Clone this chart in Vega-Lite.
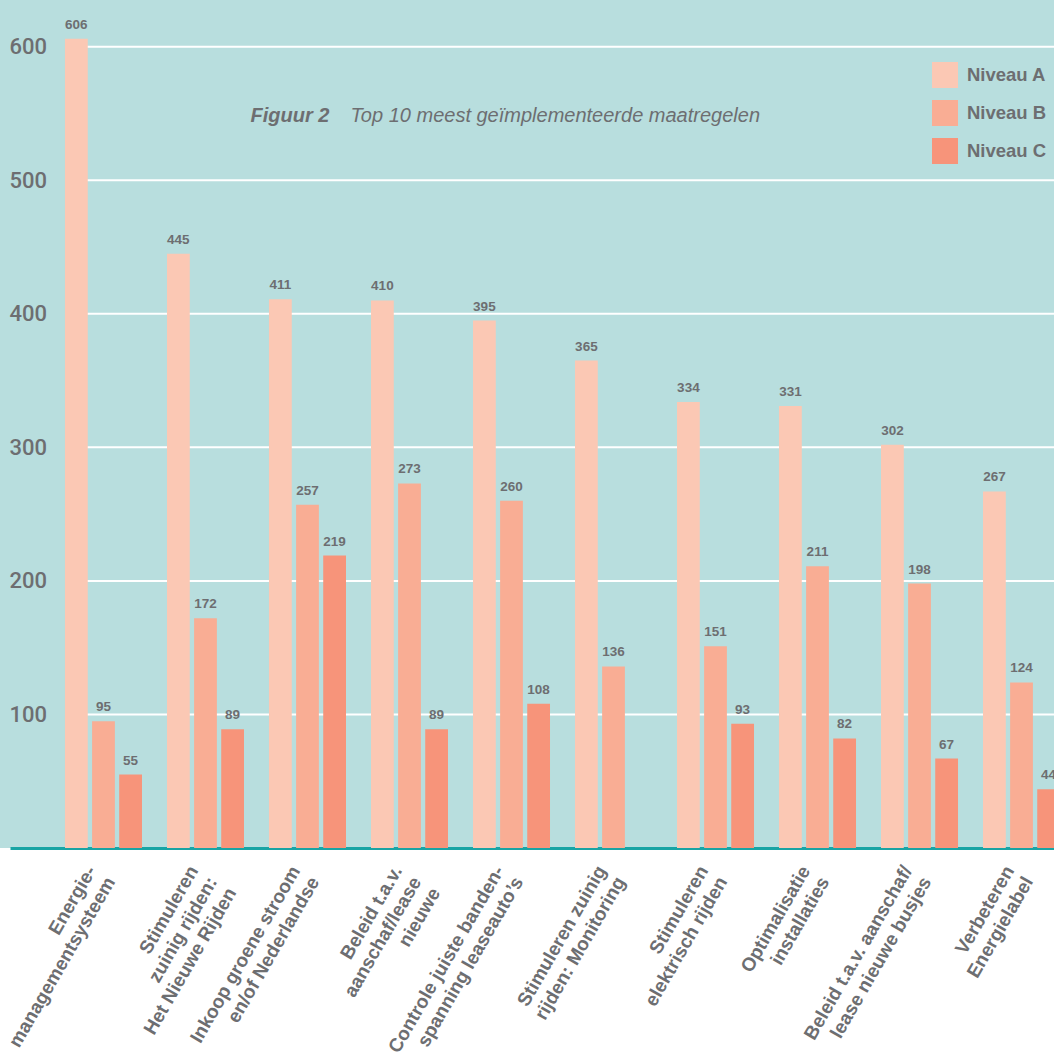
{
  "$schema": "https://vega.github.io/schema/vega-lite/v6.json",
  "width": 1054,
  "height": 848,
  "autosize": {"type": "none"},
  "padding": {"left": 0, "top": 0, "right": 0, "bottom": 215},
  "background": "#ffffff",
  "config": {"view": {"fill": "#b8dede", "stroke": null}},
  "data": {
    "values": [
      {"cat": "Energie-|managementsysteem", "niveau": "Niveau A", "value": 606},
      {"cat": "Energie-|managementsysteem", "niveau": "Niveau B", "value": 95},
      {"cat": "Energie-|managementsysteem", "niveau": "Niveau C", "value": 55},
      {"cat": "Stimuleren|zuinig rijden:|Het Nieuwe Rijden", "niveau": "Niveau A", "value": 445},
      {"cat": "Stimuleren|zuinig rijden:|Het Nieuwe Rijden", "niveau": "Niveau B", "value": 172},
      {"cat": "Stimuleren|zuinig rijden:|Het Nieuwe Rijden", "niveau": "Niveau C", "value": 89},
      {"cat": "Inkoop groene stroom|en/of Nederlandse", "niveau": "Niveau A", "value": 411},
      {"cat": "Inkoop groene stroom|en/of Nederlandse", "niveau": "Niveau B", "value": 257},
      {"cat": "Inkoop groene stroom|en/of Nederlandse", "niveau": "Niveau C", "value": 219},
      {"cat": "Beleid t.a.v.|aanschaf/lease|nieuwe", "niveau": "Niveau A", "value": 410},
      {"cat": "Beleid t.a.v.|aanschaf/lease|nieuwe", "niveau": "Niveau B", "value": 273},
      {"cat": "Beleid t.a.v.|aanschaf/lease|nieuwe", "niveau": "Niveau C", "value": 89},
      {"cat": "Controle juiste banden-|spanning leaseauto’s", "niveau": "Niveau A", "value": 395},
      {"cat": "Controle juiste banden-|spanning leaseauto’s", "niveau": "Niveau B", "value": 260},
      {"cat": "Controle juiste banden-|spanning leaseauto’s", "niveau": "Niveau C", "value": 108},
      {"cat": "Stimuleren zuinig|rijden: Monitoring", "niveau": "Niveau A", "value": 365},
      {"cat": "Stimuleren zuinig|rijden: Monitoring", "niveau": "Niveau B", "value": 136},
      {"cat": "Stimuleren|elektrisch rijden", "niveau": "Niveau A", "value": 334},
      {"cat": "Stimuleren|elektrisch rijden", "niveau": "Niveau B", "value": 151},
      {"cat": "Stimuleren|elektrisch rijden", "niveau": "Niveau C", "value": 93},
      {"cat": "Optimalisatie|installaties", "niveau": "Niveau A", "value": 331},
      {"cat": "Optimalisatie|installaties", "niveau": "Niveau B", "value": 211},
      {"cat": "Optimalisatie|installaties", "niveau": "Niveau C", "value": 82},
      {"cat": "Beleid t.a.v. aanschaf/|lease nieuwe busjes", "niveau": "Niveau A", "value": 302},
      {"cat": "Beleid t.a.v. aanschaf/|lease nieuwe busjes", "niveau": "Niveau B", "value": 198},
      {"cat": "Beleid t.a.v. aanschaf/|lease nieuwe busjes", "niveau": "Niveau C", "value": 67},
      {"cat": "Verbeteren|Energielabel", "niveau": "Niveau A", "value": 267},
      {"cat": "Verbeteren|Energielabel", "niveau": "Niveau B", "value": 124},
      {"cat": "Verbeteren|Energielabel", "niveau": "Niveau C", "value": 44}
    ]
  },
  "layer": [
    {
      "data": {"values": [{"g": 100}, {"g": 200}, {"g": 300}, {"g": 400}, {"g": 500}, {"g": 600}]},
      "mark": {"type": "rule", "color": "#ffffff", "strokeWidth": 2},
      "encoding": {
        "y": {"field": "g", "type": "quantitative"},
        "x": {"datum": "Energie-|managementsysteem", "type": "nominal", "bandPosition": 0},
        "x2": {"value": "width"}
      }
    },
    {
      "mark": {"type": "bar"},
      "encoding": {
        "x": {
          "field": "cat", "type": "nominal",
          "scale": {
            "domain": ["Energie-|managementsysteem", "Stimuleren|zuinig rijden:|Het Nieuwe Rijden", "Inkoop groene stroom|en/of Nederlandse", "Beleid t.a.v.|aanschaf/lease|nieuwe", "Controle juiste banden-|spanning leaseauto’s", "Stimuleren zuinig|rijden: Monitoring", "Stimuleren|elektrisch rijden", "Optimalisatie|installaties", "Beleid t.a.v. aanschaf/|lease nieuwe busjes", "Verbeteren|Energielabel"],
            "range": [10, 1115],
            "paddingInner": 0.245,
            "paddingOuter": 0.539
          },
          "axis": {
            "title": null,
            "labelExpr": "split(datum.label, '|')",
            "labelAngle": -60,
            "labelAlign": "right",
            "labelBaseline": "middle",
            "labelFont": "Liberation Sans",
            "labelFontWeight": "bold",
            "labelFontSize": 19,
            "labelLineHeight": 22,
            "labelColor": "#6d6e71",
            "labelPadding": 19,
            "labelOffset": -12,
            "labelLimit": 400,
            "labelOverlap": false,
            "ticks": false,
            "tickSize": 0,
            "domain": true,
            "domainColor": "#19a4a4",
            "domainWidth": 3,
            "grid": false
          }
        },
        "xOffset": {
          "field": "niveau", "type": "nominal",
          "scale": {"domain": ["Niveau A", "Niveau B", "Niveau C"], "paddingInner": 0.16, "paddingOuter": 0}
        },
        "y": {
          "field": "value", "type": "quantitative",
          "scale": {"domain": [0, 635], "nice": false, "zero": true},
          "axis": {
            "title": null,
            "values": [100, 200, 300, 400, 500, 600],
            "grid": false,
            "ticks": false,
            "tickSize": 0,
            "domain": false,
            "labelAlign": "left",
            "labelBaseline": "middle",
            "labelPadding": -9,
            "labelFont": "Roboto",
            "labelFontWeight": 500,
            "labelFontSize": 22,
            "labelColor": "#6d6e71"
          }
        },
        "color": {
          "field": "niveau", "type": "nominal",
          "scale": {"domain": ["Niveau A", "Niveau B", "Niveau C"], "range": ["#fbc8b4", "#f9ad94", "#f7947a"]},
          "legend": {
            "title": null,
            "orient": "none",
            "legendX": 932,
            "legendY": 62,
            "padding": 0,
            "symbolType": "square",
            "symbolSize": 676,
            "symbolStrokeWidth": 0,
            "symbolOpacity": 1,
            "labelFont": "Liberation Sans",
            "labelFontWeight": "bold",
            "labelFontSize": 18.5,
            "labelColor": "#6d6e71",
            "labelOffset": 9,
            "rowPadding": 12
          }
        }
      }
    },
    {
      "mark": {"type": "text", "baseline": "alphabetic", "dy": -10, "font": "Liberation Sans", "fontWeight": "bold", "fontSize": 13.5, "color": "#6d6e71"},
      "encoding": {
        "x": {"field": "cat", "type": "nominal"},
        "xOffset": {"field": "niveau", "type": "nominal"},
        "y": {"field": "value", "type": "quantitative"},
        "text": {"field": "value", "type": "quantitative"}
      }
    },
    {
      "data": {"values": [{"t": "Figuur 2"}]},
      "mark": {"type": "text", "align": "left", "baseline": "alphabetic", "dx": 45, "font": "Liberation Sans", "fontStyle": "italic", "fontWeight": "bold", "fontSize": 20, "color": "#6d6e71"},
      "encoding": {
        "x": {"datum": "Stimuleren|zuinig rijden:|Het Nieuwe Rijden", "type": "nominal"},
        "y": {"datum": 544, "type": "quantitative"},
        "text": {"field": "t", "type": "nominal"}
      }
    },
    {
      "data": {"values": [{"t": "Top 10 meest geïmplementeerde maatregelen"}]},
      "mark": {"type": "text", "align": "left", "baseline": "alphabetic", "dx": 145, "font": "Liberation Sans", "fontStyle": "italic", "fontSize": 20, "color": "#6d6e71"},
      "encoding": {
        "x": {"datum": "Stimuleren|zuinig rijden:|Het Nieuwe Rijden", "type": "nominal"},
        "y": {"datum": 544, "type": "quantitative"},
        "text": {"field": "t", "type": "nominal"}
      }
    }
  ]
}
